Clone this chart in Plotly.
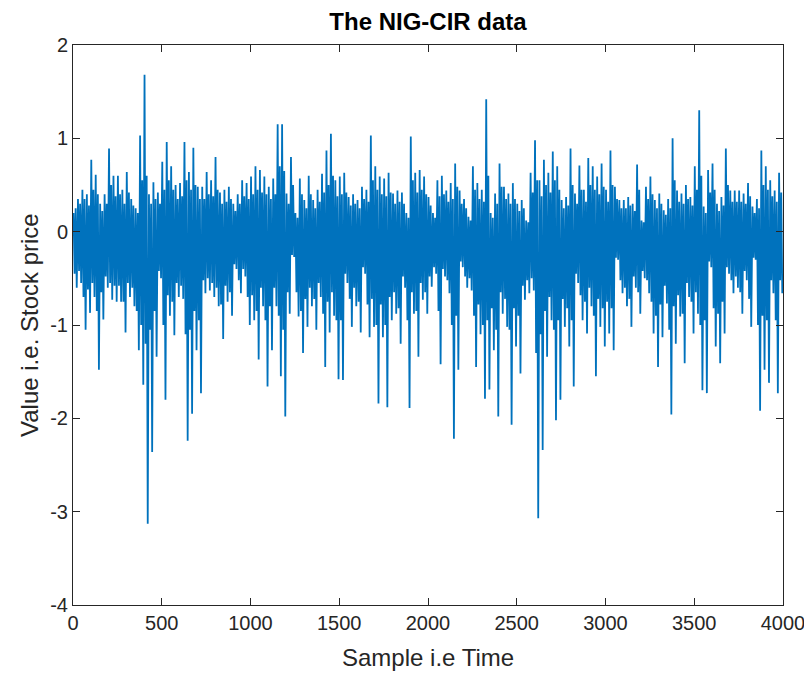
import plotly.graph_objects as go

# NIG-CIR sample path, read off the picture bin by bin
# (160 bins of 25 samples each)
BIN_SIZE = 25

# highest value in each bin
bin_high = [
    0.20, 0.35, 0.45, 0.40, 0.77, 0.61, 0.30, 0.40, 0.89, 0.60,
    0.60, 0.45, 0.64, 0.35, 0.25, 1.03, 1.68, 0.40, 0.53, 0.42,
    0.75, 0.96, 0.70, 0.50, 0.52, 0.96, 0.64, 0.90, 0.48, 0.48,
    0.64, 0.55, 0.80, 0.42, 0.45, 0.48, 0.30, 0.40, 0.55, 0.52,
    0.59, 0.70, 0.66, 0.59, 0.48, 0.57, 1.15, 1.15, 0.41, 0.80,
    0.20, 0.57, 0.34, 0.60, 0.34, 0.45, 0.62, 0.87, 1.05, 0.55,
    0.59, 0.63, 0.37, 0.40, 0.34, 0.48, 0.45, 1.03, 0.70, 0.59,
    0.57, 0.63, 0.41, 0.44, 0.42, 0.20, 1.02, 0.63, 0.66, 0.59,
    0.37, 0.20, 0.55, 0.60, 0.44, 0.52, 0.73, 0.44, 0.35, 0.16,
    0.70, 0.52, 0.45, 1.42, 0.20, 0.41, 0.73, 0.48, 0.41, 0.52,
    0.30, 0.34, 0.12, 0.63, 0.98, 0.55, 0.77, 0.63, 0.86, 0.70,
    0.34, 0.37, 0.89, 0.41, 0.71, 0.45, 0.79, 0.70, 0.59, 0.73,
    0.45, 0.87, 0.48, 0.34, 0.34, 0.37, 0.30, 0.72, 0.12, 0.48,
    0.59, 0.34, 0.41, 0.23, 0.35, 1.00, 0.44, 0.41, 0.50, 0.37,
    0.70, 1.30, 0.27, 0.66, 0.73, 0.30, 0.37, 0.89, 0.44, 0.44,
    0.44, 0.41, 0.52, 0.27, 0.35, 0.87, 0.70, 0.55, 0.44, 0.63,
]

# lowest value in each bin
bin_low = [
    -0.60, -0.55, -1.05, -0.87, -0.70, -1.48, -0.94, -0.60, -0.73, -0.75,
    -0.75, -1.08, -0.70, -0.80, -1.27, -1.64, -3.13, -2.36, -1.34, -0.50,
    -1.80, -0.90, -1.11, -0.70, -0.72, -2.24, -1.95, -1.27, -1.73, -0.66,
    -0.63, -0.70, -0.80, -1.15, -0.75, -0.90, -0.40, -0.66, -0.48, -1.00,
    -0.95, -1.37, -0.80, -1.66, -1.27, -0.80, -1.55, -1.98, -0.88, -0.27,
    -0.91, -1.30, -1.02, -0.80, -1.05, -0.70, -1.45, -1.08, -0.90, -1.58,
    -1.59, -0.55, -1.02, -0.80, -1.08, -0.45, -1.13, -1.02, -1.84, -1.13,
    -1.88, -0.95, -0.88, -1.20, -0.60, -1.89, -0.88, -1.34, -0.73, -0.88,
    -0.59, -0.45, -1.42, -0.48, -0.66, -2.22, -1.48, -0.38, -0.60, -0.63,
    -1.45, -1.10, -1.79, -1.69, -1.27, -1.98, -0.88, -1.02, -2.07, -1.23,
    -1.52, -0.73, -0.66, -0.63, -3.07, -2.34, -1.34, -0.95, -2.02, -1.80,
    -1.02, -1.23, -1.66, -0.55, -0.95, -1.09, -0.80, -1.55, -1.02, -1.23,
    -1.09, -1.27, -0.30, -0.66, -0.80, -1.02, -0.60, -0.88, -0.50, -0.66,
    -1.09, -1.45, -1.13, -0.77, -1.96, -1.20, -0.91, -1.41, -0.70, -1.09,
    -0.88, -1.70, -1.73, -0.38, -1.23, -1.41, -1.09, -0.45, -0.66, -0.60,
    -0.88, -0.52, -1.02, -0.30, -1.92, -1.48, -1.62, -0.66, -1.73, -0.66,
]

# next-highest swing in each bin (the dense part of the band)
bin_high2 = [
    0.25, 0.30, 0.35, 0.28, 0.45, 0.40, 0.22, 0.30, 0.50, 0.38,
    0.40, 0.30, 0.42, 0.28, 0.20, 0.55, 0.60, 0.30, 0.35, 0.30,
    0.45, 0.55, 0.45, 0.35, 0.38, 0.55, 0.45, 0.50, 0.35, 0.35,
    0.40, 0.38, 0.45, 0.30, 0.32, 0.35, 0.22, 0.30, 0.38, 0.35,
    0.40, 0.45, 0.42, 0.40, 0.35, 0.40, 0.70, 0.65, 0.30, 0.50,
    0.15, 0.40, 0.25, 0.40, 0.25, 0.32, 0.42, 0.50, 0.60, 0.38,
    0.40, 0.42, 0.28, 0.30, 0.25, 0.35, 0.32, 0.55, 0.45, 0.40,
    0.38, 0.42, 0.30, 0.32, 0.30, 0.15, 0.55, 0.42, 0.45, 0.40,
    0.28, 0.15, 0.38, 0.40, 0.32, 0.35, 0.48, 0.30, 0.25, 0.12,
    0.45, 0.35, 0.32, 0.60, 0.15, 0.30, 0.48, 0.35, 0.30, 0.35,
    0.22, 0.25, 0.10, 0.42, 0.55, 0.38, 0.50, 0.42, 0.55, 0.45,
    0.25, 0.28, 0.50, 0.30, 0.45, 0.32, 0.50, 0.45, 0.40, 0.48,
    0.32, 0.50, 0.35, 0.25, 0.25, 0.28, 0.22, 0.45, 0.10, 0.35,
    0.40, 0.25, 0.30, 0.18, 0.25, 0.55, 0.32, 0.30, 0.35, 0.28,
    0.45, 0.60, 0.20, 0.42, 0.45, 0.22, 0.28, 0.50, 0.32, 0.32,
    0.32, 0.30, 0.38, 0.20, 0.25, 0.50, 0.45, 0.38, 0.32, 0.42,
]

# next-lowest swing in each bin
bin_low2 = [
    -0.45, -0.42, -0.70, -0.62, -0.55, -0.85, -0.65, -0.48, -0.55, -0.58,
    -0.58, -0.75, -0.55, -0.60, -0.85, -1.00, -1.20, -1.05, -0.85, -0.42,
    -1.00, -0.68, -0.75, -0.55, -0.58, -1.10, -1.05, -0.85, -0.95, -0.52,
    -0.50, -0.55, -0.60, -0.78, -0.58, -0.65, -0.35, -0.52, -0.40, -0.70,
    -0.68, -0.85, -0.60, -0.95, -0.80, -0.60, -0.90, -1.05, -0.65, -0.25,
    -0.65, -0.85, -0.72, -0.60, -0.72, -0.55, -0.88, -0.75, -0.65, -0.95,
    -0.95, -0.45, -0.72, -0.60, -0.75, -0.38, -0.78, -0.72, -1.00, -0.78,
    -1.00, -0.70, -0.65, -0.82, -0.48, -0.95, -0.65, -0.85, -0.55, -0.65,
    -0.48, -0.38, -0.85, -0.40, -0.52, -1.00, -0.90, -0.32, -0.48, -0.50,
    -0.90, -0.78, -1.00, -0.95, -0.82, -1.05, -0.65, -0.72, -1.05, -0.82,
    -0.90, -0.58, -0.52, -0.50, -1.30, -1.10, -0.85, -0.70, -1.05, -0.95,
    -0.72, -0.82, -0.95, -0.45, -0.68, -0.75, -0.60, -0.90, -0.72, -0.82,
    -0.75, -0.82, -0.28, -0.52, -0.60, -0.72, -0.48, -0.65, -0.42, -0.52,
    -0.75, -0.90, -0.78, -0.58, -1.05, -0.80, -0.68, -0.88, -0.55, -0.75,
    -0.65, -1.00, -0.95, -0.32, -0.82, -0.88, -0.75, -0.38, -0.52, -0.48,
    -0.65, -0.42, -0.72, -0.28, -1.00, -0.90, -0.95, -0.52, -0.95, -0.52,
]

x_ticks = [0, 500, 1000, 1500, 2000, 2500, 3000, 3500, 4000]
y_ticks = [-4, -3, -2, -1, 0, 1, 2]
y_tick_labels = ['-4', '-3', '-2', '-1', '0', '1', '2']

LINE_BLUE = '#0072BD'
TEXT_GREY = '#262626'
FONT = 'Liberation Sans, Arial, sans-serif'

# walk through every bin: peak, trough, second peak, second trough
samples, values = [], []
for i in range(len(bin_high)):
    start = i * BIN_SIZE
    samples += [start + 3, start + 9, start + 15, start + 21]
    values += [bin_high[i], bin_low2[i], bin_high2[i], bin_low[i]]

fig = go.Figure()
fig.add_trace(go.Scatter(
    x=samples,
    y=values,
    mode='lines',
    line=dict(color=LINE_BLUE, width=1.8),
    showlegend=False,
))

axis_style = dict(
    showline=True,
    linecolor=TEXT_GREY,
    linewidth=1,
    mirror='ticks',
    ticks='inside',
    ticklen=7,
    tickcolor=TEXT_GREY,
    showgrid=False,
    zeroline=False,
    automargin=False,
    tickfont=dict(family=FONT, size=20, color=TEXT_GREY),
)

# the page body adds an 8px margin, so the figure is 8px smaller each way
fig.update_layout(
    width=804,
    height=665,
    paper_bgcolor='white',
    plot_bgcolor='white',
    margin=dict(l=65, r=29, t=37, b=68),
    title=dict(
        text='<b>The NIG-CIR data</b>',
        x=0.5, xref='paper', xanchor='center',
        y=0.98, yanchor='middle',
        font=dict(family=FONT, size=24, color='black'),
    ),
    xaxis=dict(range=[0, 4000], tickvals=x_ticks, **axis_style),
    yaxis=dict(range=[-4, 2], tickvals=y_ticks, ticktext=y_tick_labels, **axis_style),
    annotations=[
        dict(text='Sample i.e Time', xref='paper', yref='paper',
             x=0.5, y=-0.093, xanchor='center', yanchor='middle',
             showarrow=False, font=dict(family=FONT, size=24, color=TEXT_GREY)),
        dict(text='Value i.e. Stock price', xref='paper', yref='paper',
             x=-0.062, y=0.5, xanchor='center', yanchor='middle', textangle=-90,
             showarrow=False, font=dict(family=FONT, size=24, color=TEXT_GREY)),
    ],
)

fig.write_html("out.html")
